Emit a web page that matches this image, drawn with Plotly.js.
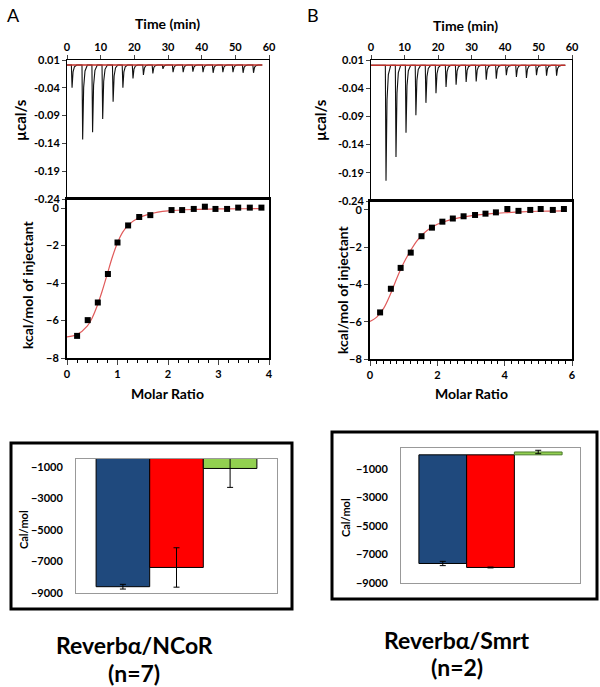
<!DOCTYPE html>
<html>
<head>
<meta charset="utf-8">
<script src="https://cdn.plot.ly/plotly-3.0.1.min.js"></script>
<style>
  html, body { margin: 0; padding: 0; background: #fff; }
  #fig { width: 600px; height: 687px; }
</style>
</head>
<body>
<div id="fig"></div>
<script>
// ---- raw ITC thermograms (injection time, min; peak minimum, µcal/s) ----
const aInjTime = [1.3, 4.45, 7.4, 10.4, 13.5, 16.4, 19.4, 22.5, 25.3, 28.3, 31.3, 34.3, 37.2, 40.2, 43.2, 46.1, 49.1, 52.1, 55.2];
const aInjPeak = [-0.040, -0.133, -0.120, -0.096, -0.065, -0.040, -0.023, -0.017, -0.014, -0.006, -0.012, -0.012, -0.011, -0.012, -0.013, -0.012, -0.012, -0.013, -0.013];
const aBaseline = 0.001;

const bInjTime = [4.28, 7.26, 10.25, 13.2, 16.2, 19.2, 22.2, 25.2, 28.2, 31.2, 34.2, 37.2, 40.2, 43.2, 46.2, 49.2, 52.2, 55.2];
const bInjPeak = [-0.204, -0.162, -0.119, -0.088, -0.066, -0.049, -0.038, -0.034, -0.029, -0.028, -0.025, -0.023, -0.017, -0.020, -0.022, -0.017, -0.018, -0.018];
const bBaseline = 0.0005;

// ---- integrated heats (molar ratio, kcal/mol of injectant) ----
const aRatio = [0.2, 0.41, 0.61, 0.81, 1.0, 1.21, 1.43, 1.65, 2.07, 2.28, 2.51, 2.73, 2.94, 3.17, 3.39, 3.62, 3.85];
const aHeat  = [-6.82, -5.98, -5.04, -3.52, -1.84, -0.93, -0.48, -0.38, -0.11, -0.11, -0.05, 0.07, -0.05, -0.05, 0.02, 0.02, 0.02];
const aFitX  = [0, 0.2, 0.4, 0.5, 0.6, 0.7, 0.8, 0.9, 1.0, 1.1, 1.2, 1.4, 1.6, 1.8, 2.0, 2.5, 3.0, 3.5, 3.9];
const aFitY  = [-6.87, -6.75, -6.3, -5.85, -5.2, -4.4, -3.5, -2.6, -1.85, -1.3, -0.95, -0.55, -0.35, -0.22, -0.15, -0.08, -0.05, -0.04, -0.03];

const bRatio = [0.30, 0.62, 0.91, 1.21, 1.53, 1.84, 2.15, 2.46, 2.78, 3.12, 3.43, 3.74, 4.08, 4.41, 4.76, 5.07, 5.43, 5.76];
const bHeat  = [-5.5, -4.23, -3.11, -2.29, -1.41, -0.95, -0.63, -0.46, -0.34, -0.27, -0.20, -0.13, 0.05, -0.05, 0.0, 0.05, 0.0, 0.05];
const bFitX  = [0, 0.2, 0.4, 0.6, 0.8, 1.0, 1.2, 1.4, 1.6, 1.8, 2.0, 2.4, 2.8, 3.2, 3.6, 4.0, 4.5, 5.0, 5.8];
const bFitY  = [-5.98, -5.75, -5.3, -4.55, -3.65, -2.85, -2.2, -1.65, -1.25, -0.97, -0.77, -0.52, -0.37, -0.27, -0.2, -0.15, -0.1, -0.07, -0.05];

// ---- thermodynamic summary (cal/mol): blue, red, green bars ----
const aBarVals = [-8600, -7380, -1100];
const aBarErr  = [150, 1250, 1200];
const bBarVals = [-7630, -7910, 200];
const bBarErr  = [150, 30, 120];
const barColors = ['#1f497d', '#ff0000', '#92d050'];
const barTicks = [-1000, -3000, -5000, -7000, -9000];

const W = 600, H = 687;
const px = v => v / W;
const py = v => 1 - v / H;
const FONT = 'Lato, "Open Sans", sans-serif';

// spike shape template (offset in min, fraction of peak depth)
const SPIKE_DT = [0, 0.2, 0.5, 0.9, 1.6];
const SPIKE_FR = [0, 1, 0.3, 0.08, 0];

function thermogram(times, peaks, base, xa, ya) {
  const x = [0], y = [base];
  times.forEach((t, i) => {
    SPIKE_DT.forEach((dt, j) => {
      x.push(t + dt);
      y.push(base + (peaks[i] - base) * SPIKE_FR[j]);
    });
  });
  x.push(58); y.push(base);
  return { x, y, xaxis: xa, yaxis: ya, mode: 'lines', line: { color: '#111', width: 1.1 }, hoverinfo: 'skip' };
}

const traces = [
  thermogram(aInjTime, aInjPeak, aBaseline, 'x', 'y'),
  { x: [0, 58], y: [aBaseline, aBaseline], xaxis: 'x', yaxis: 'y', mode: 'lines', line: { color: '#c0302a', width: 1.5 } },
  { x: aFitX, y: aFitY, xaxis: 'x2', yaxis: 'y2', mode: 'lines', line: { color: '#e05a5a', width: 1.2, shape: 'spline' } },
  { x: aRatio, y: aHeat, xaxis: 'x2', yaxis: 'y2', mode: 'markers', marker: { color: '#000', size: 6, symbol: 'square' } },

  thermogram(bInjTime, bInjPeak, bBaseline, 'x3', 'y3'),
  { x: [0, 58], y: [bBaseline, bBaseline], xaxis: 'x3', yaxis: 'y3', mode: 'lines', line: { color: '#c0302a', width: 1.5 } },
  { x: bFitX, y: bFitY, xaxis: 'x4', yaxis: 'y4', mode: 'lines', line: { color: '#e05a5a', width: 1.2, shape: 'spline' } },
  { x: bRatio, y: bHeat, xaxis: 'x4', yaxis: 'y4', mode: 'markers', marker: { color: '#000', size: 6, symbol: 'square' } },
];

aBarVals.forEach((v, i) => traces.push({
  type: 'bar', x: ['c'], y: [v], xaxis: 'x5', yaxis: 'y5',
  marker: { color: barColors[i], line: { color: '#000', width: 1 } },
  error_y: { type: 'data', array: [aBarErr[i]], color: '#000', thickness: 1, width: 3 },
}));
bBarVals.forEach((v, i) => traces.push({
  type: 'bar', x: ['c'], y: [v], xaxis: 'x6', yaxis: 'y6',
  marker: { color: barColors[i], line: { color: i === 2 ? '#4a7a2a' : '#000', width: 1 } },
  error_y: { type: 'data', array: [bBarErr[i]], color: '#000', thickness: 1, width: 3 },
}));

const tickF = { family: FONT, size: 11, color: '#000', weight: 'bold' };

const rawX = (dom, anchor) => ({
  domain: dom, anchor, side: 'top', range: [0, 60], tickvals: [0, 10, 20, 30, 40, 50, 60],
  ticks: 'outside', ticklen: 4, showline: true, mirror: true, linecolor: '#000', linewidth: 1,
  showgrid: false, zeroline: false, tickfont: tickF,
});
const rawY = (dom, anchor) => ({
  domain: dom, anchor, range: [-0.24, 0.01], tickvals: [0.01, -0.04, -0.09, -0.14, -0.19, -0.24],
  ticktext: ['0.01', '-0.04', '-0.09', '-0.14', '-0.19', '-0.24'],
  ticks: 'outside', ticklen: 4, showline: true, mirror: true, linecolor: '#000', linewidth: 1,
  showgrid: false, zeroline: false, tickfont: tickF,
});
const isoX = (dom, anchor, max) => ({
  domain: dom, anchor, range: [0, max], dtick: max === 4 ? 1 : 2,
  ticks: 'outside', ticklen: 5, minor: { dtick: 0.2, ticks: 'outside', ticklen: 3, tickcolor: '#000' },
  showline: true, mirror: true, linecolor: '#000', linewidth: 2,
  showgrid: false, zeroline: false, tickfont: tickF,
});
const isoY = (dom, anchor) => ({
  domain: dom, anchor, range: [-8, 0.48], tickvals: [0, -2, -4, -6, -8],
  ticks: 'outside', ticklen: 4, showline: true, mirror: true, linecolor: '#000', linewidth: 2,
  showgrid: false, zeroline: false, tickfont: tickF,
});
const barX = (dom, anchor) => ({
  domain: dom, anchor, showticklabels: false, ticks: '', showline: true, mirror: true,
  linecolor: '#999', linewidth: 1, showgrid: false, zeroline: false,
});
const barY = (dom, anchor, top) => ({
  domain: dom, anchor, range: [-9000, top], tickvals: barTicks, ticks: '', ticklabelstandoff: 10,
  showline: true, mirror: true, linecolor: '#999', linewidth: 1, showgrid: false, zeroline: false,
  tickfont: tickF,
});

function note(text, x, y, size, opts) {
  return Object.assign({
    text, x: px(x), y: py(y), xref: 'paper', yref: 'paper', showarrow: false,
    xanchor: 'center', yanchor: 'middle',
    font: { family: FONT, size, color: '#000', weight: 'bold' },
  }, opts || {});
}

const layout = {
  width: W, height: H,
  margin: { l: 0, r: 0, t: 0, b: 0 },
  paper_bgcolor: '#fff', plot_bgcolor: '#fff',
  showlegend: false, barmode: 'group', bargap: 0.2, bargroupgap: 0,
  xaxis:  rawX([px(67), px(269)], 'y'),
  yaxis:  rawY([py(199), py(60)], 'x'),
  xaxis2: isoX([px(67), px(269)], 'y2', 4),
  yaxis2: isoY([py(358), py(199)], 'x2'),
  xaxis3: rawX([px(371), px(572)], 'y3'),
  yaxis3: rawY([py(201), py(60)], 'x3'),
  xaxis4: isoX([px(370), px(572)], 'y4', 6),
  yaxis4: isoY([py(359), py(201)], 'x4'),
  xaxis5: barX([px(76), px(277)], 'y5'),
  yaxis5: barY([py(593), py(459)], 'x5', -500),
  xaxis6: barX([px(401), px(580)], 'y6'),
  yaxis6: barY([py(583), py(448)], 'x6', 480),
  shapes: [
    { type: 'rect', xref: 'paper', yref: 'paper', x0: px(11), x1: px(292), y0: py(609), y1: py(443), line: { color: '#000', width: 3 } },
    { type: 'rect', xref: 'paper', yref: 'paper', x0: px(332), x1: px(597), y0: py(599), y1: py(432), line: { color: '#000', width: 3 } },
  ],
  annotations: [
    note('A', 13, 15, 18, { font: { family: FONT, size: 18, color: '#000' } }),
    note('B', 313, 15, 18, { font: { family: FONT, size: 18, color: '#000' } }),
    note('Time (min)', 167, 23, 14),
    note('Time (min)', 465, 25, 14),
    note('µcal/s', 20, 120, 15, { textangle: -90 }),
    note('µcal/s', 320, 120, 15, { textangle: -90 }),
    note('kcal/mol of injectant', 27, 285, 14, { textangle: -90 }),
    note('kcal/mol of injectant', 343, 290, 14, { textangle: -90 }),
    note('Molar Ratio', 167, 393, 14),
    note('Molar Ratio', 471, 393, 14),
    note('Cal/mol', 23, 530, 11, { textangle: -90 }),
    note('Cal/mol', 345, 518, 11, { textangle: -90 }),
    note('Reverbα/NCoR', 134, 645, 23),
    note('(n=7)', 134, 673, 23),
    note('Reverbα/Smrt', 457, 640, 23),
    note('(n=2)', 457, 667, 23),
  ],
};

Plotly.newPlot('fig', traces, layout, { staticPlot: true, displayModeBar: false });
</script>
</body>
</html>
